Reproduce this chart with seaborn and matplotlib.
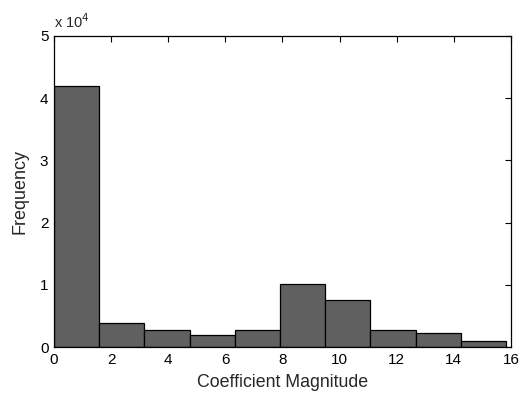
import numpy as np
import pandas as pd
import matplotlib
matplotlib.use("Agg")
import matplotlib.pyplot as plt
import seaborn as sns

# histogram: 10 equal bins from 0 to ~15.83
bin_edges = list(np.linspace(0, 15.83, 11))
counts = [42000, 3800, 2700, 2000, 2700, 10200, 7500, 2800, 2300, 900]
centers = [(a + b) / 2 for a, b in zip(bin_edges[:-1], bin_edges[1:])]
df = pd.DataFrame({'mag': centers, 'count': counts})

sns.set_style("white")
plt.rcParams['font.family'] = ['Liberation Sans', 'DejaVu Sans']

fig = plt.figure(figsize=(5.21, 3.95), dpi=100)
ax = fig.add_axes([0.1036, 0.1215, 0.8772, 0.7874])

sns.histplot(data=df, x='mag', weights='count', bins=bin_edges, ax=ax,
             color='#606060', alpha=1, edgecolor='black', linewidth=0.9)

ax.set_xlim(0, 16)
ax.set_ylim(0, 50000)
ax.set_xticks(range(0, 17, 2))
ax.set_yticks([0, 10000, 20000, 30000, 40000, 50000])
ax.set_yticklabels(['0', '1', '2', '3', '4', '5'])
ax.tick_params(direction='in', length=4, width=0.8, top=True, right=True,
               labelsize=11, colors='black', pad=4)
for s in ax.spines.values():
    s.set_visible(True)
    s.set_color('black')
    s.set_linewidth(0.9)

ax.set_xlabel('Coefficient Magnitude', fontsize=12.8, labelpad=5)
ax.set_ylabel('Frequency', fontsize=13, labelpad=8)
ax.text(0.0, 1.015, 'x 10$^4$', transform=ax.transAxes, fontsize=10.5, va='bottom')

fig.savefig('out.png', dpi=100)
